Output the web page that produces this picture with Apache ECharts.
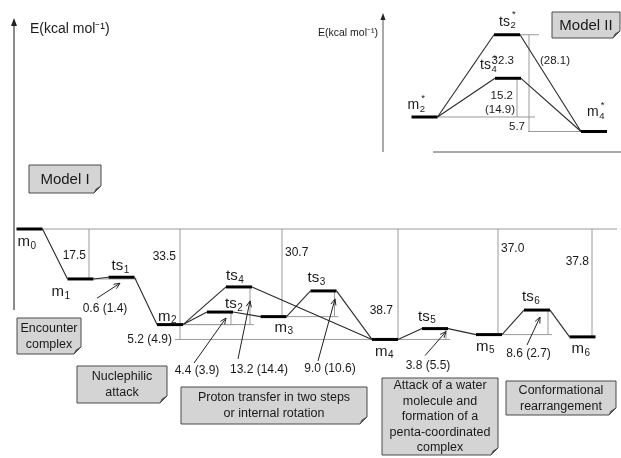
<!DOCTYPE html>
<html><head><meta charset="utf-8">
<script src="https://cdn.jsdelivr.net/npm/echarts@6/dist/echarts.min.js"></script>
<style>html,body{margin:0;padding:0;background:#fff}#c{width:621px;height:458px}</style>
</head><body><div id="c"></div>
<script>
// ---------------- DATA ----------------
// Model I : states, relative energies (kcal/mol, m0 = 0) and reaction-coordinate position
const modelIStates = ['m0','m1','ts1','m2','ts2','ts4','m3','ts3','m4','ts5','m5','ts6','m6'];
const modelIEnergy = [0, -17.5, -16.9, -33.5, -29.1, -20.3, -30.7, -21.7, -38.7, -34.9, -37.0, -28.4, -37.8];
const modelIReactionCoord = [29.5, 80.5, 121.5, 170, 220, 239, 273.5, 323.5, 385, 435, 489, 537, 582.5];
const modelIPaths = [['m0','m1'],['m1','ts1'],['ts1','m2'],['m2','ts2'],['m2','ts4'],['ts2','m3'],['ts4','m4'],['m3','ts3'],['ts3','m4'],['m4','ts5'],['ts5','m5'],['m5','ts6'],['ts6','m6']];
const modelIRelStates = ['m1','m2','m3','m4','m5','m6'];
const modelIRelTexts = ['17.5','33.5','30.7','38.7','37.0','37.8'];
const modelIBarrierFrom = ['m1','m2','m2','m3','m4','m5'];
const modelIBarrierTS = ['ts1','ts2','ts4','ts3','ts5','ts6'];
const modelIBarrierTexts = ['0.6 (1.4)','4.4 (3.9)','13.2 (14.4)','9.0 (10.6)','3.8 (5.5)','8.6 (2.7)'];
const modelIDiff = ['m2','m4','5.2 (4.9)'];
// Model II
const modelIIStates = ['m2*','ts2*','ts4*','m4*'];
const modelIIEnergy = [0, 32.3, 15.2, -5.7];
const modelIIReactionCoord = [424.5, 507, 508, 594];
const modelIIPaths = [['m2*','ts2*'],['m2*','ts4*'],['ts2*','m4*'],['ts4*','m4*']];
const modelIITexts = ['32.3','(28.1)','15.2','(14.9)','5.7'];
// Text
const stageTexts = ['Encounter\ncomplex','Nuclephilic\nattack','Proton transfer in two steps\nor internal rotation','Attack of a water\nmolecule and\nformation of a\npenta-coordinated\ncomplex','Conformational\nrearrangement'];
const modelNames = ['Model I','Model II'];
const axisTitle = 'E(kcal mol\u207B\u00B9)';

// ---------------- LAYOUT / STYLE ----------------
const FONT = "'Liberation Sans', Arial, Helvetica, sans-serif";
const HW = 13;
const ctx = document.createElement('canvas').getContext('2d');
function tw(t, size){ ctx.font = size + 'px ' + FONT; return ctx.measureText(t).width; }
function txt(text, x, y, size, align, fill){
  return {type:'text', x: x, y: y, style:{text: text, font: size + 'px ' + FONT, fill: fill || '#1a1a1a',
    textAlign: align, textVerticalAlign: 'middle', align: align, verticalAlign: 'middle'}};
}
function seg(x1,y1,x2,y2,color,w){ return {type:'line', shape:{x1:x1,y1:y1,x2:x2,y2:y2}, style:{stroke:color, lineWidth:w}}; }
function arrow(sx, sy, ex, ey){
  const a = Math.atan2(ey - sy, ex - sx), L = 6, W = 2.6;
  const bx = ex - L*Math.cos(a), by = ey - L*Math.sin(a);
  const px = -Math.sin(a)*W, py = Math.cos(a)*W;
  return [seg(sx,sy,ex,ey,'#222',1),
    {type:'polyline', shape:{points:[[bx+px,by+py],[ex,ey],[bx-px,by-py]]}, style:{stroke:'#222', fill:null, lineWidth:1}}];
}
const nameOffsets = {
  'm0':[-12,13],'m1':[-29,13],'ts1':[-10,-11],'m2':[-12,-8],'ts2':[5,-8],'ts4':[-13,-11],'m3':[1,11],
  'ts3':[-16,-13],'m4':[-10,12],'ts5':[-17,-12],'m5':[-13,12],'ts6':[-15,-13],'m6':[-11,12],
  'm2*':[-17,-12],'ts2*':[-8,-13],'ts4*':[-28,-13],'m4*':[-7,-19]
};
const relLineDx = [8.5, 10, 8.5, 13, 9, 9.5];
const relLabelPos = [['right',-3,27],['right',-4,28],['left',3,24],['right',-5,82],['left',3,20],['right',-3,33]];
// label centre, arrow start, arrow end (px offsets from the TS level centre)
const barrierLayout = [
  [[-16.5,31],[-24.5,21],[-1.5,6]],
  [[-23,59],[-26,51],[6,6]],
  [[20,83],[-1,72],[11,14]],
  [[6.5,78],[-5.5,70],[11.5,8]],
  [[-7,37],[-10,27],[11,3]],
  [[-8.5,44],[-10,35],[3,7]]
];

const X1 = s => modelIReactionCoord[modelIStates.indexOf(s)];
const E1 = s => modelIEnergy[modelIStates.indexOf(s)];
const X2 = s => modelIIReactionCoord[modelIIStates.indexOf(s)];
const E2 = s => modelIIEnergy[modelIIStates.indexOf(s)];

function levelRender(states, mainSize, subSize){
  return function(params, api){
    const name = states[params.dataIndex];
    const c = api.coord([api.value(0), api.value(1)]);
    const base = name.replace(/[0-9*]/g, '');
    const sub = name.replace(/[^0-9]/g, '');
    const star = name.indexOf('*') >= 0;
    const o = nameOffsets[name];
    const x0 = c[0] + o[0], y0 = c[1] + o[1];
    const w = tw(base, mainSize);
    const ch = [seg(c[0]-HW, c[1], c[0]+HW, c[1], '#000', 3),
      txt(base, x0, y0, mainSize, 'left'),
      txt(sub, x0 + w + 0.5, y0 + 4, subSize, 'left')];
    if (star) ch.push(txt('*', x0 + w + 2, y0 - 7, subSize, 'left'));
    return {type:'group', children: ch};
  };
}
function segRender(color, width){
  return function(params, api){
    const a = api.coord([api.value(0), api.value(1)]);
    const b = api.coord([api.value(2), api.value(3)]);
    return seg(a[0], a[1], b[0], b[1], color, width);
  };
}

// connectors
const connI = modelIPaths.map(p => [X1(p[0]) + HW, E1(p[0]), X1(p[1]) - HW, E1(p[1])]);
const connII = modelIIPaths.map(p => [X2(p[0]) + HW, E2(p[0]), X2(p[1]) - HW, E2(p[1])]);
// reference lines Model I
const refI = [[X1('m0') + HW, 0, 617, 0]];
modelIRelStates.forEach((s, i) => refI.push([X1(s) + relLineDx[i], 0, X1(s) + relLineDx[i], E1(s)]));
refI.push([X1(modelIDiff[0]) + 10, E1(modelIDiff[0]), X1(modelIDiff[0]) + 10, E1(modelIDiff[1])]);
refI.push([X1(modelIDiff[0]) + 5, E1(modelIDiff[1]), X1(modelIDiff[1]) - HW, E1(modelIDiff[1])]);
modelIBarrierTS.forEach((ts, i) => {
  const f = modelIBarrierFrom[i];
  refI.push([X1(f) + HW, E1(f), X1(ts) + HW + 2, E1(f)]);
  if (ts !== 'ts1') refI.push([X1(ts) + 11, E1(f), X1(ts) + 11, E1(ts)]);
});
// reference lines Model II
const refII = [
  [X2('ts2*') + HW, E2('ts2*'), X2('ts2*') + 32, E2('ts2*')],
  [X2('m2*') + HW, E2('m2*'), X2('ts2*') + 28, E2('m2*')],
  [X2('ts2*') + 21, E2('m4*'), X2('m4*') - HW, E2('m4*')],
  [X2('ts2*') + 22, E2('ts2*'), X2('ts2*') + 22, E2('m4*')],
  [X2('ts4*') + 9, E2('ts4*'), X2('ts4*') + 9, E2('m2*')]
];

const segDims = {dimensions:['x1','y1','x2','y2'], encode:{x:[0,2], y:[1,3]}};

const series = [
  Object.assign({type:'custom', xAxisIndex:0, yAxisIndex:0, renderItem: segRender('#9a9a9a', 1), data: refI, z:1}, segDims),
  Object.assign({type:'custom', xAxisIndex:0, yAxisIndex:0, renderItem: segRender('#2a2a2a', 1.1), data: connI, z:2}, segDims),
  {type:'custom', xAxisIndex:0, yAxisIndex:0, renderItem: levelRender(modelIStates, 15, 10),
    data: modelIStates.map((s, i) => [modelIReactionCoord[i], modelIEnergy[i]]), z:3},
  {type:'custom', xAxisIndex:0, yAxisIndex:0, z:4,
    data: modelIRelStates.map((s, i) => [X1(s) + relLineDx[i], 0]),
    renderItem: function(params, api){
      const c = api.coord([api.value(0), api.value(1)]);
      const L = relLabelPos[params.dataIndex];
      return txt(modelIRelTexts[params.dataIndex], c[0] + L[1], c[1] + L[2], 12, L[0]);
    }},
  {type:'custom', xAxisIndex:0, yAxisIndex:0, z:4,
    data: modelIBarrierTS.map(ts => [X1(ts), E1(ts)]),
    renderItem: function(params, api){
      const c = api.coord([api.value(0), api.value(1)]);
      const L = barrierLayout[params.dataIndex];
      const ch = [txt(modelIBarrierTexts[params.dataIndex], c[0] + L[0][0], c[1] + L[0][1], 12, 'center')]
        .concat(arrow(c[0] + L[1][0], c[1] + L[1][1], c[0] + L[2][0], c[1] + L[2][1]));
      return {type:'group', children: ch};
    }},
  {type:'custom', xAxisIndex:0, yAxisIndex:0, z:4,
    data: [[X1(modelIDiff[0]) + 10, E1(modelIDiff[0])]],
    renderItem: function(params, api){
      const c = api.coord([api.value(0), api.value(1)]);
      return txt(modelIDiff[2], c[0] - 8, c[1] + 15, 12, 'right');
    }},
  // Model II
  Object.assign({type:'custom', xAxisIndex:1, yAxisIndex:1, renderItem: segRender('#9a9a9a', 1), data: refII, z:1}, segDims),
  Object.assign({type:'custom', xAxisIndex:1, yAxisIndex:1, renderItem: segRender('#2a2a2a', 1.1), data: connII, z:2}, segDims),
  {type:'custom', xAxisIndex:1, yAxisIndex:1, renderItem: levelRender(modelIIStates, 14, 9.5),
    data: modelIIStates.map((s, i) => [modelIIReactionCoord[i], modelIIEnergy[i]]), z:3},
  {type:'custom', xAxisIndex:1, yAxisIndex:1, z:4,
    data: [[X2('ts2*'), E2('ts2*')]],
    renderItem: function(params, api){
      const c = api.coord([api.value(0), api.value(1)]);
      const t = api.coord([X2('ts4*'), E2('ts4*')]);
      const m = api.coord([X2('ts2*') + 22, E2('m2*')]);
      return {type:'group', children:[
        txt(modelIITexts[0], c[0] + 7, c[1] + 26, 11.5, 'right'),
        txt(modelIITexts[1], c[0] + 33, c[1] + 26, 11.5, 'left'),
        txt(modelIITexts[2], t[0] + 5, t[1] + 18, 11.5, 'right'),
        txt(modelIITexts[3], t[0] + 7, t[1] + 32, 11.5, 'right'),
        txt(modelIITexts[4], m[0] - 4, m[1] + 10, 11.5, 'right')
      ]};
    }}
];

function box(x, y, w, h, text, size, lh){
  const f = 7;
  return {type:'group', x: x, y: y, children:[
    {type:'polygon', shape:{points:[[0,0],[w,0],[w,h-f],[w-f,h],[0,h]]}, style:{fill:'#d4d4d4', stroke:'#4a4a4a', lineWidth:1}},
    {type:'polygon', shape:{points:[[w-f,h],[w-f+2,h-4],[w,h-f]]}, style:{fill:'#555', stroke:'#4a4a4a', lineWidth:0.8}},
    {type:'text', x: w/2, y: h/2 + 0.5, style:{text: text, font: size + 'px ' + FONT, fill:'#1a1a1a',
      textAlign:'center', textVerticalAlign:'middle', align:'center', verticalAlign:'middle', lineHeight: lh}}
  ]};
}

const graphics = [
  {type:'line', shape:{x1:14, y1:310, x2:14, y2:24}, style:{stroke:'#666', lineWidth:1.5}},
  {type:'polygon', shape:{points:[[14,18],[11,26],[17,26]]}, style:{fill:'#222'}},
  {type:'text', x:30, y:29, style:{text: axisTitle, font:'14px ' + FONT, fill:'#1a1a1a', textAlign:'left', textVerticalAlign:'middle', align:'left', verticalAlign:'middle'}},
  {type:'line', shape:{x1:383, y1:152, x2:383, y2:19}, style:{stroke:'#555', lineWidth:1}},
  {type:'polygon', shape:{points:[[383,13],[380.5,20],[385.5,20]]}, style:{fill:'#222'}},
  {type:'text', x:378, y:33, style:{text: axisTitle, font:'10.5px ' + FONT, fill:'#1a1a1a', textAlign:'right', textVerticalAlign:'middle', align:'right', verticalAlign:'middle'}},
  {type:'line', shape:{x1:433, y1:152, x2:621, y2:152}, style:{stroke:'#555', lineWidth:1}},
  box(29, 165, 72, 28, modelNames[0], 15, 18),
  box(552, 12, 68, 26, modelNames[1], 15, 18),
  box(17, 318, 64, 36, stageTexts[0], 12.5, 16),
  box(77, 366, 90, 37, stageTexts[1], 12.5, 16),
  box(181, 387, 186, 37, stageTexts[2], 12.5, 16),
  box(382, 378, 116, 77, stageTexts[3], 12.5, 15.5),
  box(506, 381, 110, 34, stageTexts[4], 12.5, 15.5)
];

const chart = echarts.init(document.getElementById('c'));
chart.setOption({
  animation: false,
  backgroundColor: '#fff',
  grid: [{left:0, right:0, top:0, bottom:0}, {left:0, right:0, top:0, bottom:0}],
  xAxis: [{type:'value', gridIndex:0, min:0, max:621, show:false}, {type:'value', gridIndex:1, min:0, max:621, show:false}],
  yAxis: [{type:'value', gridIndex:0, min:-80.24, max:80.24, show:false}, {type:'value', gridIndex:1, min:-133.93, max:45.95, show:false}],
  series: series,
  graphic: graphics
});
</script></body></html>
